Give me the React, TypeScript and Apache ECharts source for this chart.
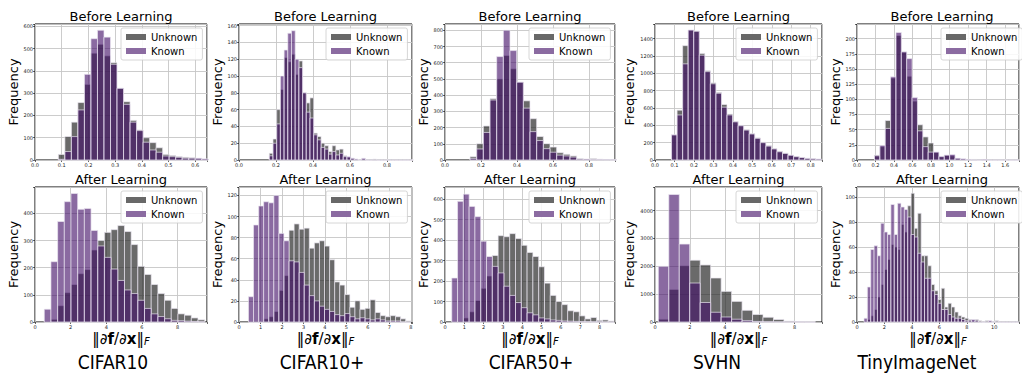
import React, { useEffect, useRef } from 'react';
import * as echarts from 'echarts';

// ---------------- data ----------------
const datasetNames = ['CIFAR10', 'CIFAR10+', 'CIFAR50+', 'SVHN', 'TinyImageNet'];
const rowTitles = ['Before Learning', 'After Learning'];
const seriesNames = ['Unknown', 'Known'];

// [first bin edge, bin width]
const cifar10BeforeBins = [0.0875, 0.0244];
const cifar10BeforeUnknown = [25, 105, 170, 258, 340, 480, 520, 468, 437, 322, 262, 178, 135, 100, 78, 55, 25, 20, 15, 12, 10, 5, 3];
const cifar10BeforeKnown = [3, 38, 105, 225, 385, 545, 583, 552, 430, 322, 250, 170, 132, 80, 45, 35, 18, 15, 12, 8, 8, 8, 5];

const cifar10pBeforeBins = [0.164, 0.02];
const cifar10pBeforeUnknown = [8, 25, 60, 84, 122, 117, 126, 102, 118, 80, 68, 74, 32, 28, 20, 17, 10, 17, 12, 13, 5, 3, 2, 1, 0, 1, 0, 0, 1, 0, 0, 0, 0, 0, 0, 0, 0, 0, 0];
const cifar10pBeforeKnown = [5, 20, 43, 100, 131, 151, 154, 120, 110, 80, 57, 50, 30, 24, 15, 13, 7, 10, 6, 8, 4, 4, 2, 1, 0, 2, 0, 0, 0, 0, 0, 0, 0, 0, 0, 0, 0, 0, 0];

const cifar50pBeforeBins = [0.139, 0.037];
const cifar50pBeforeUnknown = [20, 100, 210, 378, 500, 645, 563, 480, 365, 255, 145, 100, 80, 45, 35, 25, 8, 5, 8, 5, 3, 2];
const cifar50pBeforeKnown = [10, 68, 170, 370, 638, 800, 675, 480, 320, 175, 120, 70, 48, 30, 25, 18, 5, 5, 3, 3, 2, 1];

const svhnBeforeBins = [0.085, 0.0285];
const svhnBeforeUnknown = [290, 575, 1320, 1500, 1490, 1230, 1030, 890, 780, 640, 530, 445, 400, 350, 305, 255, 205, 165, 130, 100, 80, 55, 40, 28, 20, 15, 10];
const svhnBeforeKnown = [290, 520, 1110, 1500, 1485, 1210, 1020, 880, 770, 610, 520, 440, 395, 345, 300, 250, 200, 160, 128, 95, 75, 55, 38, 28, 18, 13, 10];

const tinyBeforeBins = [0.189, 0.058];
const tinyBeforeUnknown = [8, 22, 65, 135, 205, 178, 138, 97, 58, 38, 28, 13, 5, 8, 7, 2, 1, 0, 1, 0, 0, 0, 0, 0, 0, 0, 0];
const tinyBeforeKnown = [7, 24, 52, 137, 210, 178, 167, 103, 48, 22, 13, 13, 6, 8, 9, 3, 2, 1, 0, 0, 1, 0, 0, 0, 0, 0, 0];

const cifar10AfterBins = [0.52, 0.375];
const cifar10AfterUnknown = [3, 10, 60, 108, 138, 178, 193, 265, 300, 330, 340, 355, 333, 285, 205, 175, 138, 105, 80, 50, 30, 25, 15, 8];
const cifar10AfterKnown = [47, 222, 370, 443, 473, 415, 418, 337, 280, 238, 195, 153, 118, 105, 80, 50, 30, 20, 12, 6, 5, 3, 2, 1];

const cifar10pAfterBins = [0.44, 0.236];
const cifar10pAfterUnknown = [0, 0, 0, 3, 5, 10, 30, 44, 87, 93, 88, 89, 70, 75, 77, 72, 59, 38, 35, 26, 14, 20, 12, 13, 21, 9, 6, 5, 6, 5, 3, 1];
const cifar10pAfterKnown = [24, 92, 110, 114, 113, 120, 84, 77, 58, 57, 47, 35, 25, 20, 15, 12, 10, 7, 6, 8, 5, 3, 4, 3, 2, 3, 2, 1, 1, 1, 0, 0];

const cifar50pAfterBins = [0.35, 0.3];
const cifar50pAfterUnknown = [2, 5, 20, 50, 105, 165, 225, 325, 422, 417, 432, 408, 375, 340, 320, 270, 190, 130, 100, 85, 55, 50, 30, 15, 22, 8, 10, 5];
const cifar50pAfterKnown = [215, 590, 625, 565, 515, 395, 320, 272, 240, 175, 130, 95, 70, 45, 35, 20, 15, 10, 8, 5, 4, 3, 2, 2, 1, 1, 0, 0];

const svhnAfterBins = [0.19, 0.6];
const svhnAfterUnknown = [100, 1170, 2020, 2220, 2050, 1580, 1100, 740, 420, 270, 170, 90, 30, 15, 8];
const svhnAfterKnown = [2000, 4580, 2800, 1400, 700, 350, 180, 100, 50, 20, 10, 5, 3, 2, 1];

const tinyAfterBins = [0.51, 0.245];
const tinyAfterUnknown = [0, 2, 5, 10, 20, 30, 42, 50, 62, 60, 58, 78, 72, 93, 103, 75, 87, 53, 53, 45, 30, 25, 18, 27, 12, 15, 12, 8, 5, 4, 3, 2, 1, 2, 1, 0, 1, 0, 0, 1, 0, 0, 0, 0, 0, 0];
const tinyAfterKnown = [3, 28, 58, 61, 53, 79, 72, 70, 94, 70, 95, 92, 90, 84, 70, 68, 55, 48, 35, 35, 25, 22, 15, 10, 10, 6, 4, 3, 3, 2, 1, 1, 2, 1, 0, 0, 0, 1, 0, 0, 0, 0, 0, 0, 0, 0];

// axis extents / tick steps
const xMaxes = [0.644, 0.936, 0.944, 0.858, 1.75, 9.65, 8.05, 8.8, 9.57, 11.8];
const xSteps = [0.1, 0.2, 0.2, 0.1, 0.2, 2, 1, 1, 2, 2];
const yMaxes = [611, 162, 839, 1570, 224, 497, 128, 660, 4850, 108];
const ySteps = [100, 20, 100, 200, 25, 100, 20, 100, 1000, 20];

const panelData = [
  [cifar10BeforeBins, cifar10BeforeUnknown, cifar10BeforeKnown],
  [cifar10pBeforeBins, cifar10pBeforeUnknown, cifar10pBeforeKnown],
  [cifar50pBeforeBins, cifar50pBeforeUnknown, cifar50pBeforeKnown],
  [svhnBeforeBins, svhnBeforeUnknown, svhnBeforeKnown],
  [tinyBeforeBins, tinyBeforeUnknown, tinyBeforeKnown],
  [cifar10AfterBins, cifar10AfterUnknown, cifar10AfterKnown],
  [cifar10pAfterBins, cifar10pAfterUnknown, cifar10pAfterKnown],
  [cifar50pAfterBins, cifar50pAfterUnknown, cifar50pAfterKnown],
  [svhnAfterBins, svhnAfterUnknown, svhnAfterKnown],
  [tinyAfterBins, tinyAfterUnknown, tinyAfterKnown],
];

// ---------------- layout & style ----------------
const FONT = 'DejaVu Sans';
const UNK_FILL = 'rgba(35,35,35,0.68)';
const KN_FILL = 'rgba(66,14,104,0.62)';
const UNK_LEGEND = '#686868';
const KN_LEGEND = '#8b6ba1';
const EDGE = 'rgba(236,232,242,0.85)';

const colLayout = [
  { left: 35, width: 172 },
  { left: 239, width: 173 },
  { left: 445, width: 170 },
  { left: 655, width: 167 },
  { left: 857, width: 170 },
];
const rowLayout = [
  { top: 24, height: 136, titleY: 16.5 },
  { top: 187, height: 135, titleY: 179.5 },
];
const nameCenters = [113, 322, 531, 717, 917];

function fmt(step: number) {
  const dec = step < 1 ? 1 : 0;
  return (v: number) => {
    const r = v / step;
    if (Math.abs(r - Math.round(r)) > 1e-6) return '';
    return v.toFixed(dec);
  };
}

function makeRender(fill: string) {
  return (params: any, api: any) => {
    const x0 = api.value(0);
    const x1 = api.value(1);
    const y = api.value(2);
    const p0 = api.coord([x0, 0]);
    const p1 = api.coord([x1, y]);
    return {
      type: 'rect',
      shape: { x: p0[0], y: p1[1], width: p1[0] - p0[0], height: p0[1] - p1[1] },
      style: { fill, stroke: EDGE, lineWidth: 0.8 },
    };
  };
}

function buildOption() {
  const grid: any[] = [];
  const xAxis: any[] = [];
  const yAxis: any[] = [];
  const series: any[] = [];
  const legend: any[] = [];
  const graphic: any[] = [];

  for (let i = 0; i < 10; i++) {
    const row = i < 5 ? 0 : 1;
    const col = i % 5;
    const c = colLayout[col];
    const r = rowLayout[row];
    grid.push({
      left: c.left,
      top: r.top,
      width: c.width,
      height: r.height,
      show: true,
      borderColor: '#000',
      borderWidth: 1,
      backgroundColor: 'transparent',
      containLabel: false,
    });
    xAxis.push({
      type: 'value',
      gridIndex: i,
      min: 0,
      max: xMaxes[i],
      interval: xSteps[i],
      axisLine: { show: false },
      axisTick: { show: true, length: 2, lineStyle: { color: '#000', width: 0.6 } },
      axisLabel: { fontSize: 5, margin: 2, color: '#222', fontFamily: FONT, formatter: fmt(xSteps[i]) },
      splitLine: { show: true, lineStyle: { color: '#c6c6c6', width: 0.9 } },
      ...(row === 1
        ? {
            name: '{a|‖∂}{b|f}{a|/∂}{b|x}{a|‖}{c|F}',
            nameLocation: 'middle',
            nameGap: 9,
            nameTextStyle: {
              rich: {
                a: { fontSize: 15, fontFamily: FONT, color: '#000' },
                b: { fontSize: 15, fontFamily: FONT, fontWeight: 'bold', color: '#000' },
                c: { fontSize: 10, fontFamily: FONT, fontStyle: 'italic', color: '#000', padding: [5, 0, 0, 0] },
              },
            },
          }
        : {}),
    });
    yAxis.push({
      type: 'value',
      gridIndex: i,
      min: 0,
      max: yMaxes[i],
      interval: ySteps[i],
      axisLine: { show: false },
      axisTick: { show: true, length: 2, lineStyle: { color: '#000', width: 0.6 } },
      axisLabel: { fontSize: 5, margin: 2, color: '#222', fontFamily: FONT, formatter: fmt(ySteps[i]) },
      splitLine: { show: true, lineStyle: { color: '#c6c6c6', width: 0.9 } },
      name: 'Frequency',
      nameLocation: 'middle',
      nameGap: 14,
      nameTextStyle: { fontSize: 13, fontFamily: FONT, color: '#000' },
    });
    const [bins, unk, kn] = panelData[i] as [number[], number[], number[]];
    const start = bins[0];
    const w = bins[1];
    series.push({
      type: 'custom',
      name: seriesNames[0],
      xAxisIndex: i,
      yAxisIndex: i,
      silent: true,
      itemStyle: { color: UNK_LEGEND },
      encode: { x: [0, 1], y: 2 },
      data: unk.map((v, k) => [start + k * w, start + (k + 1) * w, v]),
      renderItem: makeRender(UNK_FILL),
      z: 2,
    });
    series.push({
      type: 'custom',
      name: seriesNames[1],
      xAxisIndex: i,
      yAxisIndex: i,
      silent: true,
      itemStyle: { color: KN_LEGEND },
      encode: { x: [0, 1], y: 2 },
      data: kn.map((v, k) => [start + k * w, start + (k + 1) * w, v]),
      renderItem: makeRender(KN_FILL),
      z: 3,
    });
    legend.push({
      left: c.left + c.width - 86,
      top: r.top + 4,
      orient: 'vertical',
      itemWidth: 20,
      itemHeight: 6,
      itemGap: 4,
      padding: [4, 5, 4, 5],
      backgroundColor: 'rgba(255,255,255,0.85)',
      borderColor: '#cccccc',
      borderWidth: 0.8,
      borderRadius: 2,
      selectedMode: false,
      textStyle: { fontSize: 10, fontFamily: FONT, color: '#000' },
      data: [
        { name: seriesNames[0], icon: 'rect', itemStyle: { color: UNK_LEGEND } },
        { name: seriesNames[1], icon: 'rect', itemStyle: { color: KN_LEGEND } },
      ],
    });
    graphic.push({
      type: 'text',
      x: c.left + c.width / 2,
      y: r.titleY,
      style: {
        text: rowTitles[row],
        fontSize: 13,
        fontFamily: FONT,
        fill: '#000',
        align: 'center',
        verticalAlign: 'middle',
      },
    });
  }
  datasetNames.forEach((n, k) => {
    graphic.push({
      type: 'text',
      x: nameCenters[k],
      y: 362,
      style: {
        text: n,
        fontSize: 19,
        fontFamily: "'Liberation Sans Narrow', 'DejaVu Sans Condensed', 'Open Sans', sans-serif",
        fill: '#000',
        align: 'center',
        verticalAlign: 'middle',
      },
    });
  });

  return {
    animation: false,
    backgroundColor: '#fff',
    textStyle: { fontFamily: FONT },
    grid,
    xAxis,
    yAxis,
    series,
    legend,
    graphic,
  };
}

export default function App() {
  const ref = useRef<HTMLDivElement>(null);
  useEffect(() => {
    if (!ref.current) return;
    const chart = echarts.init(ref.current, undefined, { renderer: 'svg' });
    chart.setOption(buildOption() as any);
    return () => chart.dispose();
  }, []);
  return (
    <div
      ref={ref}
      style={{ position: 'absolute', left: 0, top: 0, width: 1022, height: 373, background: '#fff' }}
    />
  );
}
